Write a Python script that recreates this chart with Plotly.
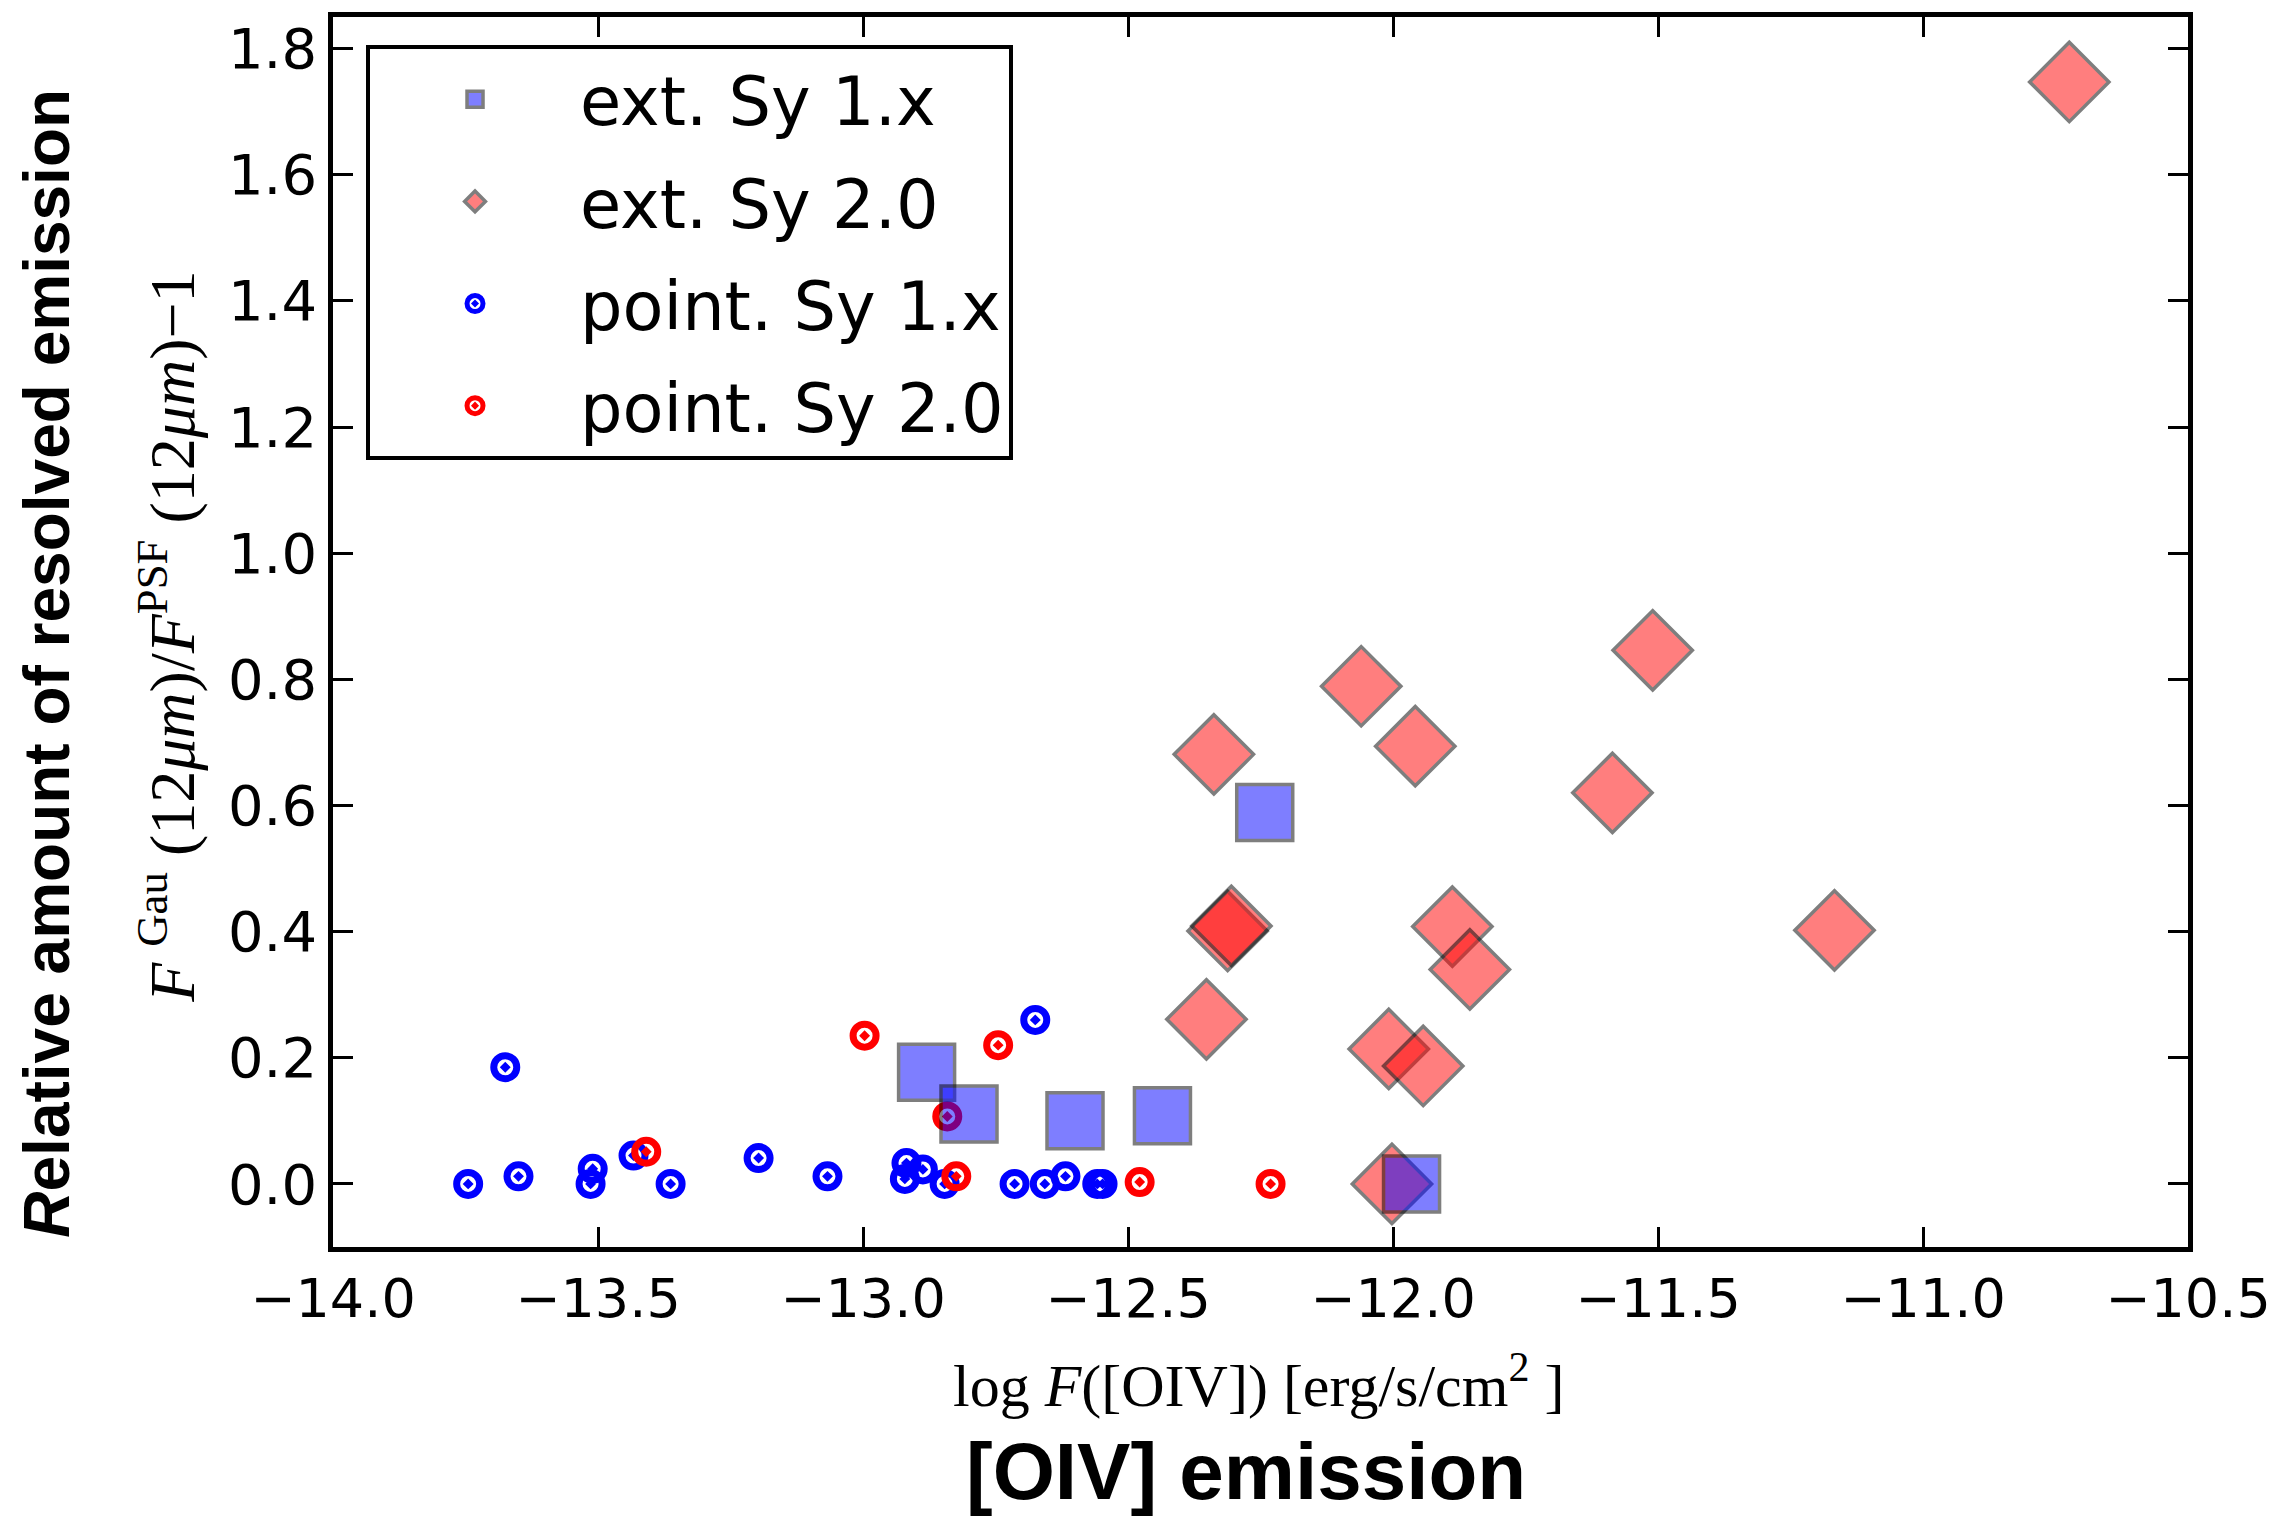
import plotly.graph_objects as go

# Extended sources, Seyfert 1.x (squares)
ext_sy1_x = [-12.880, -12.800, -12.600, -12.435, -12.242, -11.965]
ext_sy1_y = [0.177, 0.111, 0.100, 0.108, 0.589, 0.000]

# Extended sources, Seyfert 2.0 (diamonds)
ext_sy2_x = [-10.724, -11.510, -12.060, -11.958, -12.338, -11.586, -12.312, -12.305,
             -11.888, -11.855, -11.167, -12.352, -12.008, -11.943, -12.002]
ext_sy2_y = [1.747, 0.846, 0.789, 0.694, 0.681, 0.620, 0.401, 0.409,
             0.408, 0.340, 0.402, 0.261, 0.214, 0.187, 0.000]

# Point-like sources, Seyfert 1.x
pt_sy1_x = [-13.745, -13.675, -13.650, -13.510, -13.514, -13.433, -13.363, -13.197,
            -13.067, -12.918, -12.887, -12.921, -12.846, -12.714, -12.657, -12.618,
            -12.675, -12.558, -12.548]
pt_sy1_y = [0.000, 0.185, 0.012, 0.024, 0.000, 0.045, 0.000, 0.041,
            0.012, 0.033, 0.023, 0.008, 0.000, 0.000, 0.000, 0.012,
            0.260, 0.000, 0.000]

# Point-like sources, Seyfert 2.0
pt_sy2_x = [-13.409, -12.997, -12.745, -12.841, -12.824, -12.478, -12.231]
pt_sy2_y = [0.051, 0.235, 0.220, 0.107, 0.012, 0.003, 0.000]

x_ticks = [-14.0, -13.5, -13.0, -12.5, -12.0, -11.5, -11.0, -10.5]
y_ticks = [0.0, 0.2, 0.4, 0.6, 0.8, 1.0, 1.2, 1.4, 1.6, 1.8]

SANS = "DejaVu Sans"
BOLD = "Liberation Sans"
SERIF = "Liberation Serif"

fig = go.Figure()

# point sources: open target rings drawn first so extended markers sit on top
fig.add_trace(go.Scatter(
    x=pt_sy1_x, y=pt_sy1_y, mode="markers", name="point. Sy 1.x",
    legendgroup="p1", legendrank=3,
    marker=dict(symbol="circle-open-dot", size=23, color="#0000ff",
                line=dict(width=7, color="#0000ff")),
))
fig.add_trace(go.Scatter(
    x=pt_sy2_x, y=pt_sy2_y, mode="markers", name="point. Sy 2.0",
    legendgroup="p2", legendrank=4,
    marker=dict(symbol="circle-open-dot", size=23, color="#ff0000",
                line=dict(width=7, color="#ff0000")),
))
fig.add_trace(go.Scatter(
    x=ext_sy2_x, y=ext_sy2_y, mode="markers", name="ext. Sy 2.0",
    legendgroup="e2", legendrank=2,
    marker=dict(symbol="diamond", size=61, color="#ff0000", opacity=0.5,
                line=dict(width=3.5, color="#000000")),
))
fig.add_trace(go.Scatter(
    x=ext_sy1_x, y=ext_sy1_y, mode="markers", name="ext. Sy 1.x",
    legendgroup="e1", legendrank=1,
    marker=dict(symbol="square", size=56, color="#0000ff", opacity=0.5,
                line=dict(width=3.5, color="#000000")),
))

axis_common = dict(
    showline=True, linecolor="black", linewidth=4.5, mirror="ticks",
    ticks="inside", ticklen=20, tickwidth=2.5, tickcolor="black",
    showgrid=False, zeroline=False,
    tickformat=".1f",
)

fig.update_xaxes(range=[-14.0, -10.5], tickvals=x_ticks, ticklabelstandoff=0,
                 tickfont=dict(family=SANS, size=54, color="black"), **axis_common)
fig.update_yaxes(range=[-0.1, 1.85], tickvals=y_ticks, ticklabelstandoff=0,
                 tickfont=dict(family=SANS, size=56, color="black"), **axis_common)

annotations = [
    dict(text="<b><i>R</i>elative amount of resolved emission</b>",
         xref="paper", yref="paper", x=-0.1542, y=0.475, textangle=-90,
         xanchor="center", yanchor="middle", showarrow=False,
         font=dict(family=BOLD, size=64, color="black")),
    dict(text="<i>F</i> <sup>Gau</sup> (12<i>μm</i>)/<i>F</i><sup>PSF</sup> (12<i>μm</i>)−1",
         xref="paper", yref="paper", x=-0.0890, y=0.496, textangle=-90,
         xanchor="center", yanchor="middle", showarrow=False,
         font=dict(family=SERIF, size=64, color="black")),
    dict(text="log <i>F</i>([OIV]) [erg/s/cm<sup>2</sup> ]",
         xref="paper", yref="paper", x=0.4987, y=-0.1093,
         xanchor="center", yanchor="middle", showarrow=False,
         font=dict(family=SERIF, size=60, color="black")),
    dict(text="<b>[OIV] emission</b>",
         xref="paper", yref="paper", x=0.492, y=-0.1822,
         xanchor="center", yanchor="middle", showarrow=False,
         font=dict(family=BOLD, size=80, color="black")),
]

fig.update_layout(
    width=2293, height=1525,
    margin=dict(l=333, r=105, t=12, b=278),
    paper_bgcolor="white", plot_bgcolor="white",
    annotations=annotations,
    legend=dict(
        x=0.0178, y=0.977, xanchor="left", yanchor="top",
        bgcolor="white", bordercolor="black", borderwidth=4,
        font=dict(family=SANS, size=67, color="black"),
        itemsizing="trace", itemwidth=200, tracegroupgap=12,
    ),
)

fig.write_html("out.html")
